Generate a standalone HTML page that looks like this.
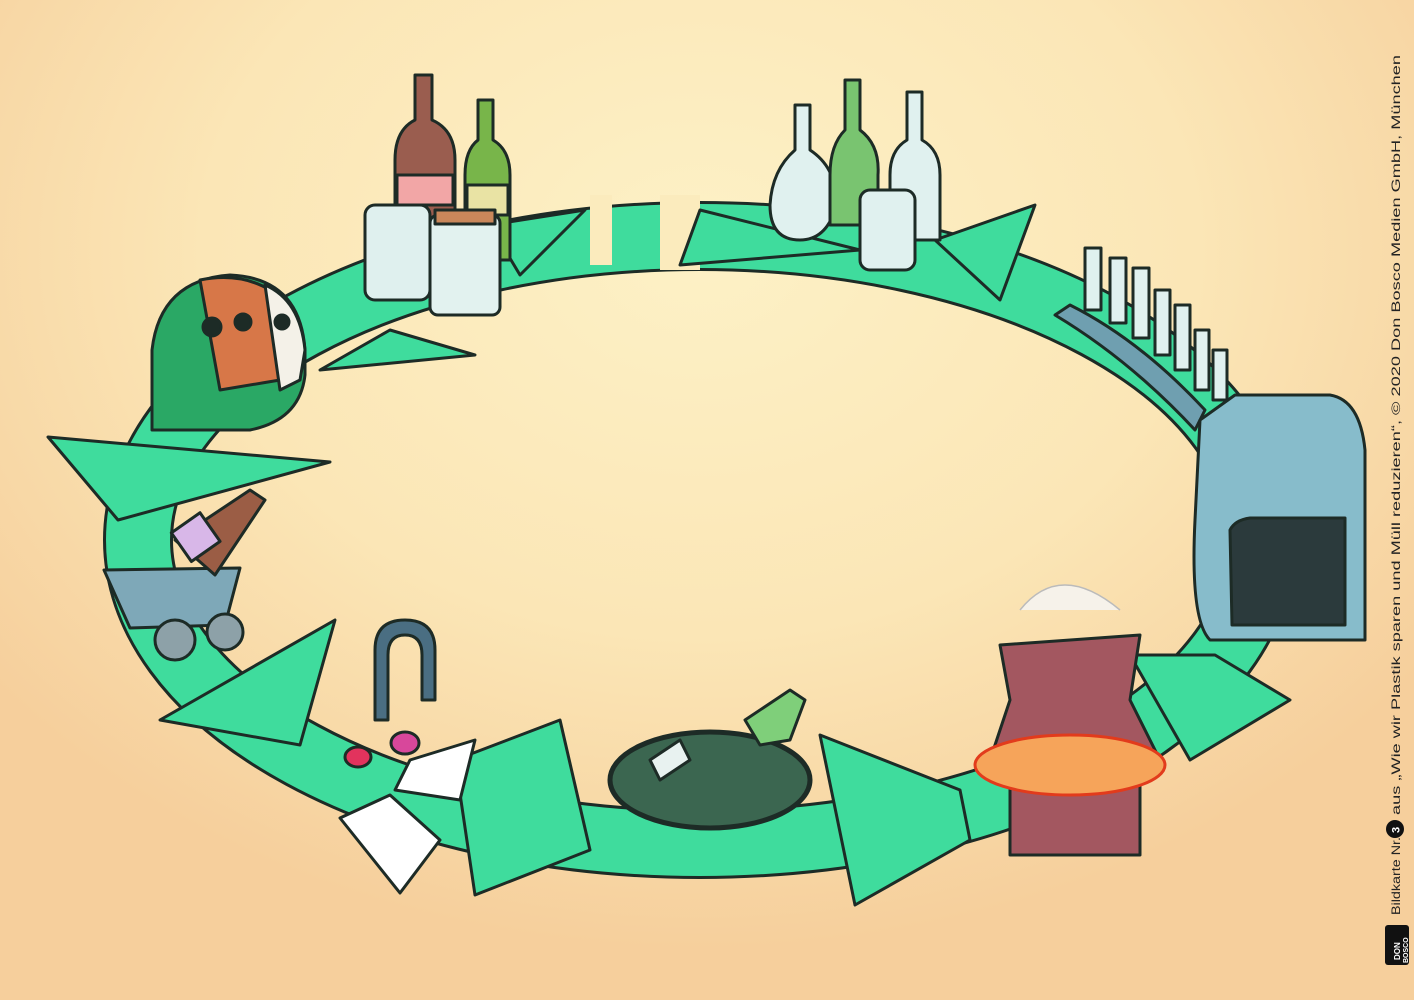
<!DOCTYPE html>
<html><head><meta charset="utf-8"><style>
html,body{margin:0;padding:0;width:1414px;height:1000px;overflow:hidden}
body{background:radial-gradient(ellipse 900px 700px at 700px 250px,#fdf1c6 0%,#fbe6b6 55%,#f6cf9c 100%)}
svg{position:absolute;left:0;top:0}
</style></head><body>
<svg width="1414" height="1000" viewBox="0 0 1414 1000">
<g stroke="#1d2b26" stroke-width="3" stroke-linejoin="round">
<ellipse cx="700" cy="540" rx="562" ry="304" fill="none" stroke="#1d2b26" stroke-width="70"/>
<ellipse cx="700" cy="540" rx="562" ry="304" fill="none" stroke="#3fdc9d" stroke-width="64"/>
<rect x="590" y="195" width="22" height="70" fill="#fbebbd" stroke="none"/>
<rect x="660" y="195" width="40" height="75" fill="#fbebbd" stroke="none"/>
<g fill="#3fdc9d">
<polygon points="48,437 330,462 118,520"/>
<polygon points="160,720 335,620 300,745"/>
<polygon points="455,760 560,720 590,850 475,895"/>
<polygon points="820,735 960,790 970,840 855,905"/>
<polygon points="1130,655 1215,655 1290,700 1190,760"/>
<polygon points="935,240 1035,205 1000,300"/>
<polygon points="700,210 680,265 860,250"/>
<polygon points="490,225 585,210 520,275"/>
<polygon points="390,330 475,355 320,370"/>
</g>
<path d="M152,430 L152,350 Q160,280 230,275 Q300,278 305,350 L305,375 Q300,420 250,430 Z" fill="#2aa865"/>
<path d="M200,280 Q240,272 270,290 L280,380 L220,390 Z" fill="#d77748"/>
<path d="M265,285 Q300,300 305,350 L300,380 L280,390 Z" fill="#f4f1e8"/>
<circle cx="212" cy="327" r="9" fill="#1d2b26"/><circle cx="243" cy="322" r="8" fill="#1d2b26"/><circle cx="282" cy="322" r="7" fill="#1d2b26"/>
<path d="M415,75 L432,75 L432,120 Q455,130 455,160 L455,240 L395,240 L395,160 Q395,130 415,120 Z" fill="#9a5d4f"/>
<rect x="397" y="175" width="56" height="30" fill="#f2a6a6"/>
<path d="M478,100 L493,100 L493,140 Q510,150 510,175 L510,260 L465,260 L465,175 Q465,150 478,140 Z" fill="#78b54a"/>
<rect x="467" y="185" width="41" height="30" fill="#e9e3a4"/>
<rect x="365" y="205" width="65" height="95" rx="10" fill="#dff0ee"/>
<rect x="430" y="215" width="70" height="100" rx="8" fill="#e2f2ef"/>
<rect x="435" y="210" width="60" height="14" fill="#c9875a"/>
<path d="M795,105 L810,105 L810,150 Q840,170 835,210 Q825,240 800,240 Q770,240 770,205 Q772,170 795,150 Z" fill="#e0f1ef"/>
<path d="M845,80 L860,80 L860,130 Q880,145 878,175 L878,225 L830,225 L830,175 Q830,145 845,130 Z" fill="#79c470"/>
<path d="M907,92 L922,92 L922,140 Q940,150 940,175 L940,240 L890,240 L890,175 Q890,150 907,140 Z" fill="#e0f1ef"/>
<rect x="860" y="190" width="55" height="80" rx="10" fill="#e0f1ef"/>
<path d="M1055,315 L1070,305 Q1140,340 1205,410 L1195,430 Q1130,360 1055,315 Z" fill="#6f9fb0"/>
<g fill="#e0f1ef">
<rect x="1085" y="248" width="16" height="62"/><rect x="1110" y="258" width="16" height="65"/><rect x="1133" y="268" width="16" height="70"/>
<rect x="1155" y="290" width="15" height="65"/><rect x="1175" y="305" width="15" height="65"/><rect x="1195" y="330" width="14" height="60"/><rect x="1213" y="350" width="14" height="50"/>
</g>
<path d="M1200,420 L1235,395 L1330,395 Q1360,400 1365,450 L1365,640 L1210,640 Q1190,620 1195,520 Z" fill="#87bccb"/>
<path d="M1230,530 Q1235,520 1250,518 L1345,518 L1345,625 L1232,625 Z" fill="#2b3a3c"/>
<path d="M1000,645 L1140,635 L1130,700 L1160,760 L990,760 L1010,700 Z" fill="#a35760"/>
<rect x="1010" y="760" width="130" height="95" fill="#a35760"/>
<ellipse cx="1070" cy="765" rx="95" ry="30" fill="#f6a45a" stroke="#e23b1c"/>
<path d="M1020,610 Q1060,560 1120,610" fill="#f6f2ea" stroke="#bbb" stroke-width="1.5"/>
<ellipse cx="710" cy="780" rx="100" ry="48" fill="#3b6650" stroke-width="5"/>
<path d="M650,760 L680,740 L690,760 L660,780 Z" fill="#e8f2f0"/>
<path d="M745,720 L790,690 L805,700 L790,740 L760,745 Z" fill="#7fcf7a"/>
<path d="M104,570 L240,568 L225,625 L130,628 Z" fill="#7ea8b8"/>
<path d="M175,540 L250,490 L265,500 L215,575 Z" fill="#9b5d45"/>
<rect x="178" y="520" width="35" height="35" fill="#d8b7e8" transform="rotate(-35 195 537)"/>
<circle cx="175" cy="640" r="20" fill="#8da1a8"/><circle cx="225" cy="632" r="18" fill="#8da1a8"/>
<path d="M375,720 L375,650 Q375,620 405,620 Q435,620 435,650 L435,700 L422,700 L422,655 Q422,635 405,635 Q388,635 388,655 L388,720 Z" fill="#4a6e82"/>
<ellipse cx="358" cy="757" rx="13" ry="10" fill="#e2335d"/><ellipse cx="405" cy="743" rx="14" ry="11" fill="#d8479b"/>
<polygon points="340,818 390,795 440,840 400,893" fill="#fff"/>
<polygon points="410,760 475,740 460,800 395,790" fill="#fff"/>
</g>
<circle cx="1395" cy="829" r="9" fill="#111"/>
<text x="0" y="0" transform="translate(1400,915) rotate(-90)" font-family="Liberation Sans, sans-serif" font-size="12" fill="#222" textLength="78" lengthAdjust="spacingAndGlyphs">Bildkarte Nr.</text>
<text x="0" y="0" transform="translate(1399.5,833) rotate(-90)" font-family="Liberation Sans, sans-serif" font-size="11" font-weight="bold" fill="#fff">3</text>
<text x="0" y="0" transform="translate(1400,815) rotate(-90)" font-family="Liberation Sans, sans-serif" font-size="12" fill="#222" textLength="760" lengthAdjust="spacingAndGlyphs">aus „Wie wir Plastik sparen und Müll reduzieren“, © 2020 Don Bosco Medien GmbH, München</text>
<rect x="1385" y="925" width="24" height="40" rx="3" fill="#111"/>
<text transform="translate(1400,960) rotate(-90)" font-family="Liberation Sans, sans-serif" font-size="8" font-weight="bold" fill="#fff">DON</text>
<text transform="translate(1408,963) rotate(-90)" font-family="Liberation Sans, sans-serif" font-size="7" font-weight="bold" fill="#fff">BOSCO</text>
</svg>
</body></html>
